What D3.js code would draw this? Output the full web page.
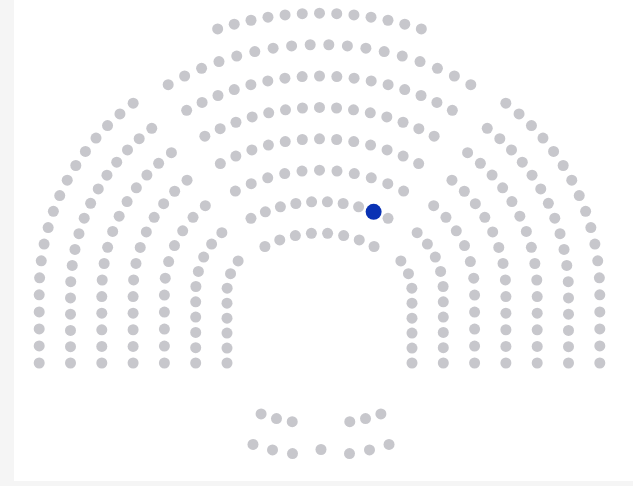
<!DOCTYPE html>
<html lang="en">
  <head>
    <meta charset="utf-8" />
    <script src="https://d3js.org/d3.v7.min.js" charset="utf-8"></script>
    <style>
      body {
        margin: 0;
        background: #f5f5f5;
      }
      svg {
        display: block;
      }
    </style>
  </head>

  <body>
    <div id="plot-container"></div>

    <script type="text/javascript">
      // data //--------------------------------------------------------

      // seats per row, inner row first
      var wing_rows = [8, 10, 11, 13, 15, 17, 18]; // left wing, right wing mirrors it
      var centre_rows = [8, 10, 11, 13, 15, 17, 18, 13];
      var bench_top = [3, 3]; // left group, right group
      var bench_bottom = [3, 1, 3]; // left group, chair, right group

      // the one coloured seat
      var highlighted = { block: 'centre', row: 1, seat: 8 };

      // constants //---------------------------------------------------

      var container_dimensions = { width: 633, height: 486 };
      var seat_colour = '#c7c7cc';
      var highlight_colour = '#0a32b4';
      var seat_radius = 5.5;
      var highlight_radius = 8;

      // hemicycle geometry, in layout units (origin = centre of the middle block)
      var centre_geo = {
        r0: 117,
        pitch: 31.4,
        half_angle: [27.8, 27.5, 27.9, 28, 28.2, 29, 29.7, 17.6],
      };
      var wing_geo = {
        cx: 43.5, // wing arc centre, off the middle axis
        cy: 58,
        r0: 49,
        pitch: 31.3,
        start_angle: [39.4, 47.6, 50.7, 51.5, 53.1, 52.8, 52.9],
        leg_bottom: -13,
      };
      var bench_geo = {
        cx: 1.5,
        cy: 110,
        radii: [184, 215.5],
      };

      var deg = Math.PI / 180;

      // layout functions //--------------------------------------------

      function CentreSeats() {
        var seats = [];
        centre_rows.forEach(function (n, i) {
          var r = centre_geo.r0 + centre_geo.pitch * i;
          var a = centre_geo.half_angle[i] * deg;
          for (var k = 0; k < n; k++) {
            var t = -a + (2 * a * k) / (n - 1);
            seats.push({
              block: 'centre',
              row: i,
              seat: k,
              x: r * Math.sin(t),
              y: r * Math.cos(t),
            });
          }
        });
        return seats;
      }

      function WingSeats(side) {
        // side = -1 left, +1 right
        var seats = [];
        wing_rows.forEach(function (n, i) {
          var r = wing_geo.r0 + wing_geo.pitch * i;
          var a0 = wing_geo.start_angle[i] * deg;
          var arc_len = r * a0;
          var leg_len = wing_geo.cy - wing_geo.leg_bottom;
          var step = (arc_len + leg_len) / (n - 1);
          for (var k = 0; k < n; k++) {
            var s = k * step;
            var px, py;
            if (s <= arc_len) {
              var phi = a0 - s / r;
              px = wing_geo.cx + r * Math.cos(phi);
              py = wing_geo.cy + r * Math.sin(phi);
            } else {
              px = wing_geo.cx + r;
              py = wing_geo.cy - (s - arc_len);
            }
            seats.push({
              block: side < 0 ? 'left' : 'right',
              row: i,
              seat: k,
              x: side * px,
              y: py,
            });
          }
        });
        return seats;
      }

      function BenchSeats() {
        var seats = [];
        function Put(r, angle) {
          seats.push({
            block: 'bench',
            x: bench_geo.cx + r * Math.sin(angle * deg),
            y: bench_geo.cy - r * Math.cos(angle * deg),
          });
        }
        // front bench: two groups, 5 degrees apart
        var r = bench_geo.radii[0];
        for (var k = 0; k < bench_top[0]; k++) Put(r, -9 - 5 * (bench_top[0] - 1 - k));
        for (var k = 0; k < bench_top[1]; k++) Put(r, 9 + 5 * k);
        // back bench: two groups and the chair in the middle
        r = bench_geo.radii[1];
        for (var k = 0; k < bench_bottom[0]; k++) Put(r, -7.6 - 5.4 * (bench_bottom[0] - 1 - k));
        for (var k = 0; k < bench_bottom[1]; k++) Put(r - 6, 0);
        for (var k = 0; k < bench_bottom[2]; k++) Put(r, 7.6 + 5.4 * k);
        return seats;
      }

      // plot //--------------------------------------------------------

      var scale_x = d3.scaleLinear().domain([-320, 320]).range([-0.5, 639.5]);
      var scale_y = d3.scaleLinear().domain([-136, 350]).range([486, 0]);

      var svg = d3
        .select('#plot-container')
        .append('svg')
        .attr('width', container_dimensions.width)
        .attr('height', container_dimensions.height);

      // white card on a light grey page
      svg
        .append('rect')
        .attr('x', 14)
        .attr('y', 0)
        .attr('width', container_dimensions.width - 14)
        .attr('height', 481)
        .attr('fill', '#ffffff');

      var seats = []
        .concat(WingSeats(-1))
        .concat(CentreSeats())
        .concat(WingSeats(1))
        .concat(BenchSeats());

      function IsHighlighted(d) {
        return (
          d.block == highlighted.block &&
          d.row == highlighted.row &&
          d.seat == highlighted.seat
        );
      }

      svg
        .append('g')
        .attr('class', 'seats')
        .selectAll('circle')
        .data(seats)
        .join('circle')
        .attr('cx', function (d) {
          return scale_x(d.x);
        })
        .attr('cy', function (d) {
          return scale_y(d.y);
        })
        .attr('r', function (d) {
          return IsHighlighted(d) ? highlight_radius : seat_radius;
        })
        .attr('fill', function (d) {
          return IsHighlighted(d) ? highlight_colour : seat_colour;
        });

      // keep the coloured seat on top
      svg.selectAll('.seats circle').filter(IsHighlighted).raise();
    </script>
  </body>
</html>
